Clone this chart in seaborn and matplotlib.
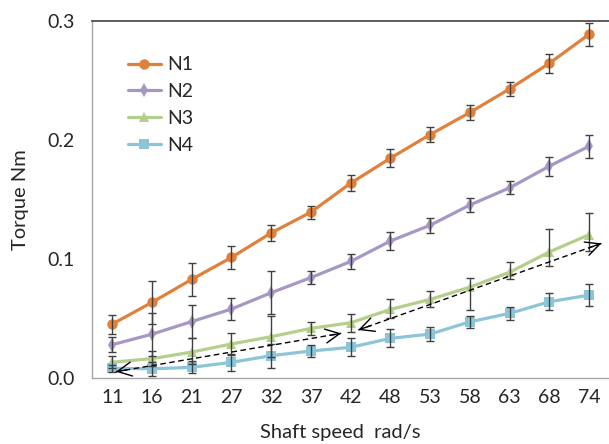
import matplotlib
matplotlib.use("Agg")
import matplotlib.pyplot as plt
from matplotlib.lines import Line2D
import seaborn as sns
import pandas as pd
import numpy as np

# ---- data ----
speeds = ["11", "16", "21", "27", "32", "37", "42", "48", "53", "58", "63", "68", "74"]
series_names = ["N1", "N2", "N3", "N4"]

n1 = [0.0455, 0.0637, 0.0830, 0.1014, 0.1220, 0.1394, 0.1637, 0.1847, 0.2045, 0.2230, 0.2428, 0.2643, 0.2886]
n1_err = [0.0080, 0.0180, 0.0140, 0.0097, 0.0065, 0.0055, 0.0065, 0.0075, 0.0060, 0.0060, 0.0060, 0.0080, 0.0095]

n2 = [0.0282, 0.0370, 0.0476, 0.0581, 0.0718, 0.0845, 0.0980, 0.1152, 0.1284, 0.1454, 0.1598, 0.1780, 0.1947]
n2_err = [0.0065, 0.0180, 0.0140, 0.0090, 0.0180, 0.0053, 0.0065, 0.0075, 0.0063, 0.0060, 0.0055, 0.0080, 0.0095]

n3 = [0.0135, 0.0165, 0.0220, 0.0288, 0.0349, 0.0419, 0.0466, 0.0578, 0.0662, 0.0765, 0.0890, 0.1060, 0.1205]
n3_err_lo = [0.0050, 0.0060, 0.0100, 0.0095, 0.0173, 0.0055, 0.0075, 0.0076, 0.0060, 0.0195, 0.0055, 0.0117, 0.0140]
n3_err_hi = [0.0050, 0.0060, 0.0120, 0.0095, 0.0176, 0.0055, 0.0070, 0.0084, 0.0072, 0.0075, 0.0085, 0.0196, 0.0180]

n4 = [0.0084, 0.0080, 0.0092, 0.0134, 0.0190, 0.0229, 0.0260, 0.0335, 0.0371, 0.0474, 0.0545, 0.0642, 0.0698]
n4_err = [0.0030, 0.0060, 0.0050, 0.0070, 0.0100, 0.0050, 0.0075, 0.0075, 0.0060, 0.0050, 0.0055, 0.0070, 0.0095]

# dashed double arrows (start/end in category-index units, torque)
arrow1 = [(0.09, 0.0055), (5.76, 0.0377)]
arrow2 = [(6.19, 0.0405), (12.31, 0.1132)]

colors = {"N1": "#E0803A", "N2": "#A797C4", "N3": "#B4CE8C", "N4": "#8CC4D8"}
markers = {"N1": "o", "N2": "d", "N3": "^", "N4": "s"}
msizes = {"N1": 7.5, "N2": 7.0, "N3": 7.5, "N4": 7.5}

# ---- build long table ----
pos = np.arange(len(speeds))
vals = {"N1": n1, "N2": n2, "N3": n3, "N4": n4}
errs = {"N1": [n1_err, n1_err], "N2": [n2_err, n2_err],
        "N3": [n3_err_lo, n3_err_hi], "N4": [n4_err, n4_err]}
rows = []
for s in series_names:
    for i, v in enumerate(vals[s]):
        rows.append({"pos": pos[i], "speed": speeds[i], "torque": v, "series": s})
df = pd.DataFrame(rows)

sns.set_style("white")
plt.rcParams["font.family"] = ["Lato", "DejaVu Sans"]

fig = plt.figure(figsize=(6.09, 4.44), dpi=100)
ax = fig.add_axes([92.4 / 609, (444 - 378.3) / 444, 1 - 92.4 / 609, (378.3 - 20.7) / 444])

for s in series_names:
    sub = df[df["series"] == s]
    sns.lineplot(data=sub, x="pos", y="torque", color=colors[s], marker=markers[s],
                 markersize=msizes[s], markeredgewidth=0, linewidth=2.3,
                 ax=ax, legend=False, zorder=3)
    ax.errorbar(pos, vals[s], yerr=errs[s], fmt="none", ecolor="#404040",
                elinewidth=1.0, capsize=2.9, capthick=1.0, zorder=4)

# arrows
for a in [arrow1, arrow2]:
    (x0, y0), (x1, y1) = a
    ax.plot([x0, x1], [y0, y1], ls=(0, (4, 2.5)), color="black", lw=1.0, zorder=6, clip_on=True)
    for (xa, ya), (xb, yb) in [((x1, y1), (x0, y0)), ((x0, y0), (x1, y1))]:
        dx, dy = xb - xa, yb - ya
        ax.annotate("", xy=(xb, yb), xytext=(xb - 0.05 * dx, yb - 0.05 * dy),
                    arrowprops=dict(arrowstyle="->,head_length=0.85,head_width=0.42",
                                    color="black", lw=1.0, shrinkA=0, shrinkB=0,
                                    mutation_scale=12), zorder=6, annotation_clip=False)

ax.set_xlim(-0.5, (609 - 92.4) / 40.25 - 0.5)
ax.set_ylim(0, 0.3)
ax.set_yticks([0.0, 0.1, 0.2, 0.3])
ax.set_yticklabels(["0.0", "0.1", "0.2", "0.3"])
ax.set_xticks(pos)
ax.set_xticklabels(speeds)
ax.set_xticks(np.arange(-0.5, len(speeds), 1.0), minor=True)

txtc = "#262626"
ax.tick_params(axis="x", which="major", length=0, labelsize=14, colors=txtc, pad=8)
ax.tick_params(axis="x", which="minor", length=7, direction="inout", color="#A6A6A6", width=1)
ax.tick_params(axis="y", which="major", length=5, direction="out", color="#A6A6A6", width=1,
               labelsize=14, labelcolor=txtc, pad=8)

for sp in ["left", "bottom"]:
    ax.spines[sp].set_color("#A6A6A6")
    ax.spines[sp].set_linewidth(1.0)
ax.spines["top"].set_color("#404040")
ax.spines["top"].set_linewidth(1.2)
ax.spines["right"].set_visible(False)

ax.set_xlabel("Shaft speed  rad/s", fontsize=14.5, color=txtc)
ax.xaxis.set_label_coords((340 - 92.4) / 516.6, -0.128)
ax.set_ylabel("Torque Nm", fontsize=14.5, color=txtc)
ax.yaxis.set_label_coords(-(92.4 - 29) / 516.6, 0.5)

handles = [Line2D([0], [0], color=colors[s], marker=markers[s], markersize=msizes[s],
                  markeredgewidth=0, linewidth=2.3) for s in series_names]
ax.legend(handles, series_names, loc="upper left", bbox_to_anchor=(0.068, 0.90),
          frameon=False, fontsize=14, handlelength=1.7, handletextpad=0.35,
          labelspacing=0.5, borderpad=0, borderaxespad=0, labelcolor=txtc)

fig.savefig("out.png", dpi=100)
